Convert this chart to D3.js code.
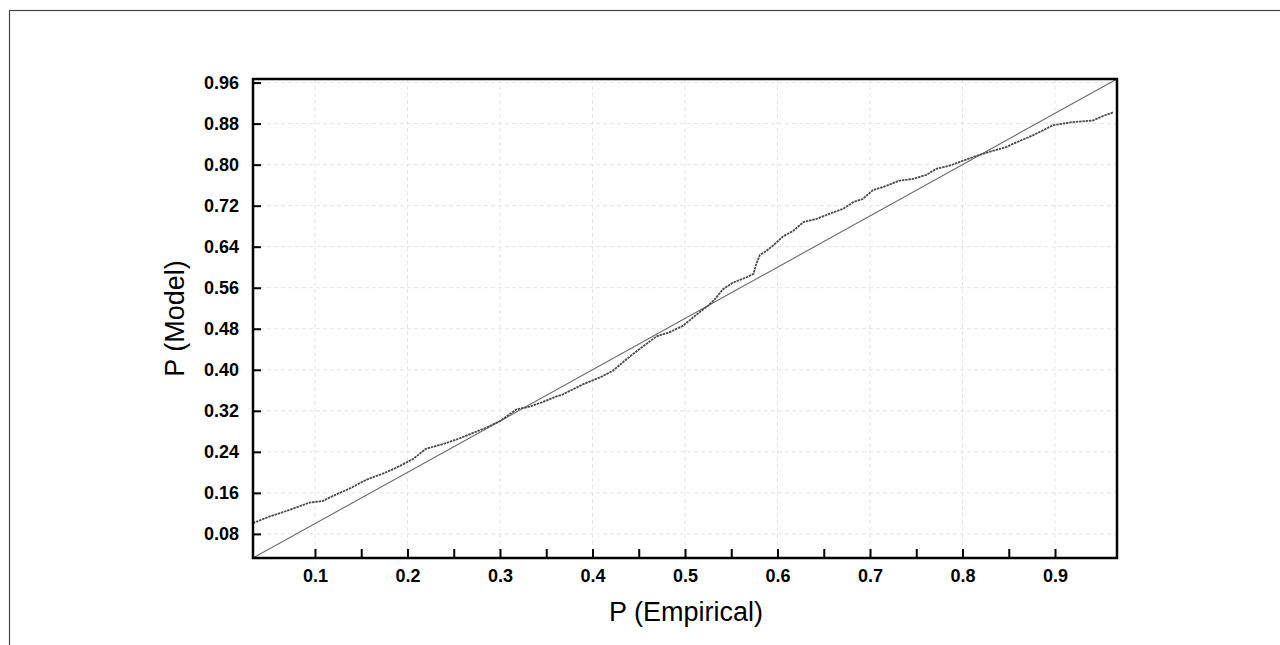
<!DOCTYPE html>
<html>
<head>
<meta charset="utf-8">
<script src="https://cdn.jsdelivr.net/npm/d3@7"></script>
<style>
  html, body { margin: 0; padding: 0; background: #fff; }
  svg { display: block; font-family: "Liberation Sans", Arial, sans-serif; }
</style>
</head>
<body>
<svg id="chart" width="1280" height="645"></svg>
<script>
// values
const pEmpirical = [0.033, 0.051, 0.073, 0.094, 0.108, 0.123, 0.137, 0.156, 0.174, 0.188,
  0.206, 0.220, 0.238, 0.253, 0.267, 0.285, 0.300, 0.318, 0.332, 0.346,
  0.361, 0.368, 0.390, 0.408, 0.422, 0.437, 0.447, 0.458, 0.469, 0.483,
  0.498, 0.512, 0.525, 0.532, 0.541, 0.552, 0.566, 0.574, 0.577, 0.581,
  0.588, 0.595, 0.606, 0.617, 0.628, 0.642, 0.656, 0.671, 0.682, 0.692,
  0.703, 0.718, 0.732, 0.746, 0.761, 0.772, 0.786, 0.801, 0.815, 0.829,
  0.847, 0.855, 0.876, 0.898, 0.919, 0.941, 0.952, 0.963];
const pModel = [0.101, 0.114, 0.127, 0.141, 0.144, 0.157, 0.168, 0.186, 0.198, 0.209,
  0.226, 0.246, 0.255, 0.264, 0.274, 0.287, 0.300, 0.323, 0.328, 0.337,
  0.348, 0.352, 0.372, 0.385, 0.398, 0.421, 0.435, 0.450, 0.465, 0.473,
  0.486, 0.507, 0.525, 0.537, 0.557, 0.570, 0.580, 0.587, 0.606, 0.624,
  0.632, 0.642, 0.660, 0.671, 0.688, 0.694, 0.704, 0.714, 0.727, 0.733,
  0.750, 0.759, 0.769, 0.772, 0.780, 0.792, 0.798, 0.808, 0.817, 0.825,
  0.834, 0.841, 0.857, 0.877, 0.883, 0.886, 0.895, 0.902];
const axisRange = [0.033, 0.967];
const xTicks = [0.1, 0.15, 0.2, 0.25, 0.3, 0.35, 0.4, 0.45, 0.5, 0.55, 0.6, 0.65, 0.7, 0.75, 0.8, 0.85, 0.9];
const xLabels = [0.1, 0.2, 0.3, 0.4, 0.5, 0.6, 0.7, 0.8, 0.9];
const yTicks = [0.08, 0.16, 0.24, 0.32, 0.40, 0.48, 0.56, 0.64, 0.72, 0.80, 0.88, 0.96];

const layout = { left: 253, top: 79, right: 1117, bottom: 558 };

const svg = d3.select("#chart");

// outer frame (runs off the right / bottom of the picture)
svg.append("rect")
  .attr("x", 9.5).attr("y", 10.5)
  .attr("width", 1400).attr("height", 800)
  .attr("fill", "none").attr("stroke", "#444").attr("stroke-width", 1.2);

const xScale = d3.scaleLinear().domain(axisRange).range([layout.left, layout.right]);
const yScale = d3.scaleLinear().domain(axisRange).range([layout.bottom, layout.top]);

// grid (very faint dashes)
const grid = svg.append("g")
  .attr("stroke", "#e6e6e6").attr("stroke-width", 1).attr("stroke-dasharray", "4,3");
grid.selectAll(".hg").data(yTicks).join("line")
  .attr("x1", layout.left).attr("x2", layout.right)
  .attr("y1", (d) => yScale(d)).attr("y2", (d) => yScale(d));
grid.selectAll(".vg").data(xLabels).join("line")
  .attr("y1", layout.top).attr("y2", layout.bottom)
  .attr("x1", (d) => xScale(d)).attr("x2", (d) => xScale(d));

// diagonal reference line
svg.append("path")
  .datum(axisRange)
  .attr("d", d3.line().x((d) => xScale(d)).y((d) => yScale(d)))
  .attr("fill", "none").attr("stroke", "#6a6a6a").attr("stroke-width", 1.1);

// model vs empirical curve, drawn dotted like the scatter of the original
const points = pEmpirical.map((d, i) => [d, pModel[i]]);
svg.append("path")
  .datum(points)
  .attr("d", d3.line().x((d) => xScale(d[0])).y((d) => yScale(d[1])))
  .attr("fill", "none").attr("stroke", "#4a4a4a").attr("stroke-width", 1.8)
  .attr("stroke-dasharray", "2.5,0.8")
  .attr("stroke-linejoin", "round");

// axes
const xAxis = d3.axisBottom(xScale)
  .tickValues(xTicks)
  .tickSize(-9)
  .tickPadding(11)
  .tickFormat((d) => xLabels.some((v) => Math.abs(v - d) < 1e-9) ? d3.format(".1f")(d) : "");
const yAxis = d3.axisLeft(yScale)
  .tickValues(yTicks)
  .tickSize(-8)
  .tickPadding(14)
  .tickFormat(d3.format(".2f"));

const gx = svg.append("g")
  .attr("transform", `translate(0, ${layout.bottom})`)
  .call(xAxis);
const gy = svg.append("g")
  .attr("transform", `translate(${layout.left}, 0)`)
  .call(yAxis);

[gx, gy].forEach((g) => {
  g.select(".domain").remove();
  g.selectAll(".tick line").attr("stroke", "#000").attr("stroke-width", 2);
  g.selectAll(".tick text")
    .attr("fill", "#000")
    .style("font-size", "18px")
    .style("font-weight", "bold")
    .style("font-family", "'Liberation Sans', Arial, sans-serif");
});

// plot frame
svg.append("rect")
  .attr("x", layout.left).attr("y", layout.top)
  .attr("width", layout.right - layout.left)
  .attr("height", layout.bottom - layout.top)
  .attr("fill", "none").attr("stroke", "#000").attr("stroke-width", 2.5);

// axis titles
svg.append("text")
  .attr("x", (layout.left + layout.right) / 2 + 1)
  .attr("y", 621)
  .attr("text-anchor", "middle")
  .style("font-size", "27px")
  .text("P (Empirical)");

svg.append("g")
  .attr("transform", `translate(184, ${(layout.top + layout.bottom) / 2})`)
  .append("text")
  .attr("text-anchor", "middle")
  .attr("transform", "rotate(-90)")
  .style("font-size", "27px")
  .text("P (Model)");
</script>
</body>
</html>
